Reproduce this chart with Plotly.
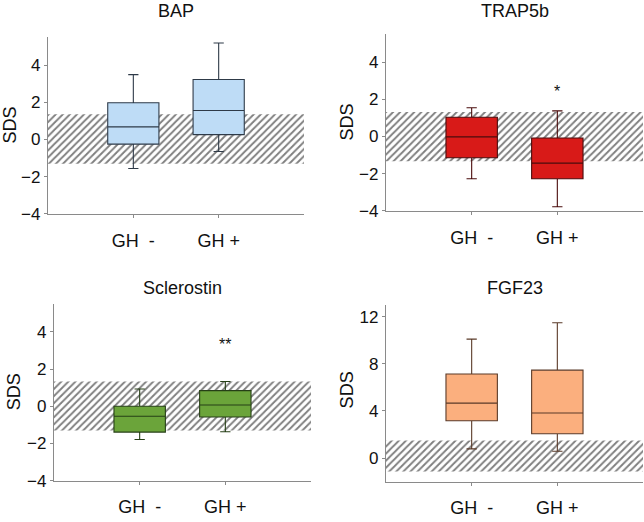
import plotly.graph_objects as go

groups = ["GH\u00a0\u00a0-", "GH +"]
panels = ["BAP", "TRAP5b", "Sclerostin", "FGF23"]

# box statistics per panel: [GH-, GH+]
q1 = {"BAP": [-0.25, 0.26], "TRAP5b": [-1.14, -2.27], "Sclerostin": [-1.39, -0.58], "FGF23": [3.17, 2.06]}
median = {"BAP": [0.68, 1.56], "TRAP5b": [-0.02, -1.43], "Sclerostin": [-0.54, 0.07], "FGF23": [4.67, 3.83]}
q3 = {"BAP": [1.98, 3.23], "TRAP5b": [1.04, -0.08], "Sclerostin": [0.0, 0.84], "FGF23": [7.14, 7.47]}
lower = {"BAP": [-1.56, -0.65], "TRAP5b": [-2.27, -3.78], "Sclerostin": [-1.79, -1.37], "FGF23": [0.78, 0.58]}
upper = {"BAP": [3.49, 5.19], "TRAP5b": [1.55, 1.38], "Sclerostin": [0.93, 1.33], "FGF23": [10.1, 11.5]}

# reference (normal) band
band_low = {"BAP": -1.3, "TRAP5b": -1.33, "Sclerostin": -1.3, "FGF23": -1.15}
band_high = {"BAP": 1.36, "TRAP5b": 1.32, "Sclerostin": 1.33, "FGF23": 1.5}

# significance markers: (group index, y, text)
signif = {"BAP": (1, 6.2, "*"), "TRAP5b": (1, 2.4, "*"), "Sclerostin": (1, 3.3, "**")}

y_range = {"BAP": [-4, 5.5], "TRAP5b": [-4, 5.5], "Sclerostin": [-4, 5.5], "FGF23": [-2, 13]}
y_ticks = {"BAP": [-4, -2, 0, 2, 4], "TRAP5b": [-4, -2, 0, 2, 4], "Sclerostin": [-4, -2, 0, 2, 4], "FGF23": [0, 4, 8, 12]}

fill = {"BAP": "#BEDCF6", "TRAP5b": "#D81A18", "Sclerostin": "#6BA43A", "FGF23": "#FBAF7E"}
edge = {"BAP": "#2E3A48", "TRAP5b": "#4A0C0C", "Sclerostin": "#263F16", "FGF23": "#5A3A28"}

W, H = 644, 522
# plot-area pixel boxes: (left, right, top, bottom)
px = {"BAP": (48, 304, 38, 218), "TRAP5b": (386, 643, 35, 215),
      "Sclerostin": (54, 311, 310, 490), "FGF23": (386, 643, 311, 491)}
title_pos = {"BAP": (176, 11), "TRAP5b": (515, 11), "Sclerostin": (182, 294), "FGF23": (515, 294)}
sds_pos = {"BAP": (10, 128), "TRAP5b": (347, 125), "Sclerostin": (14, 400), "FGF23": (347, 398)}

fig = go.Figure()
font = "Liberation Sans, Arial, sans-serif"
annotations = []
for i, p in enumerate(panels):
    n = "" if i == 0 else str(i + 1)
    xa, ya = "x" + n, "y" + n
    fig.add_trace(go.Bar(
        x=[0.5], y=[band_high[p] - band_low[p]], base=[band_low[p]], width=[3],
        marker=dict(color="white", line=dict(width=0),
                    pattern=dict(shape="/", fgcolor="#000000", bgcolor="white", size=5, solidity=0.38)),
        xaxis=xa, yaxis=ya, showlegend=False, hoverinfo="skip"))
    fig.add_trace(go.Box(
        x=[0, 1], q1=q1[p], median=median[p], q3=q3[p],
        lowerfence=lower[p], upperfence=upper[p],
        width=0.6, whiskerwidth=0.2, fillcolor=fill[p],
        line=dict(color=edge[p], width=1.1), boxpoints=False,
        xaxis=xa, yaxis=ya, showlegend=False))
    l, r, t, b = px[p]
    fig.layout["xaxis" + n] = dict(
        domain=[l / W, r / W], anchor=ya, range=[-1, 2], tickvals=[0, 1], ticktext=groups,
        showline=True, linecolor="#8a8a8a", linewidth=1.2, ticks="outside", ticklen=3,
        tickcolor="#8a8a8a", showgrid=False, zeroline=False, ticklabelstandoff=7,
        tickfont=dict(size=18, color="#111", family=font))
    fig.layout["yaxis" + n] = dict(
        domain=[1 - b / H, 1 - t / H], anchor=xa, range=y_range[p], tickvals=y_ticks[p],
        showline=True, linecolor="#8a8a8a", linewidth=1.2, ticks="outside", ticklen=3,
        tickcolor="#8a8a8a", showgrid=False, zeroline=False,
        tickfont=dict(size=17, color="#111", family=font))
    tx, ty = title_pos[p]
    annotations.append(dict(text=p, x=tx / W, y=1 - ty / H, xref="paper", yref="paper",
                            xanchor="center", yanchor="middle",
                            showarrow=False, font=dict(size=18, color="#111", family=font)))
    sx, sy = sds_pos[p]
    annotations.append(dict(text="SDS", x=sx / W, y=1 - sy / H, xref="paper", yref="paper",
                            xanchor="center", yanchor="middle",
                            showarrow=False, textangle=-90, font=dict(size=18, color="#111", family=font)))
    if p in signif:
        g, yv, s = signif[p]
        annotations.append(dict(text=s, x=g, y=yv, xref=xa, yref=ya, showarrow=False,
                                xanchor="center", yanchor="middle",
                                font=dict(size=16, color="#111", family=font)))

fig.update_layout(width=W, height=H, margin=dict(l=0, r=0, t=0, b=0),
                  paper_bgcolor="white", plot_bgcolor="white",
                  annotations=annotations, barmode="overlay")
fig.write_html("out.html", config={"displayModeBar": False})

with open("out.html", encoding="utf-8") as f:
    html = f.read()
html = html.replace("<head>", "<head><style>html,body{margin:0;padding:0;overflow:hidden;}</style>", 1)
with open("out.html", "w", encoding="utf-8") as f:
    f.write(html)
